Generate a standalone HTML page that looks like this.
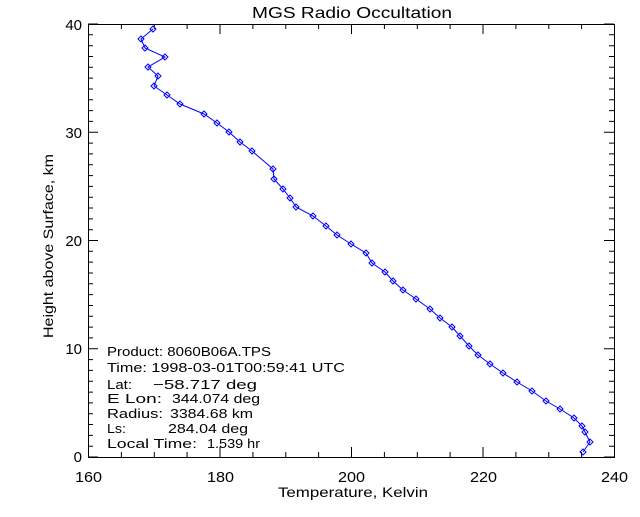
<!DOCTYPE html>
<html><head><style>
body{margin:0;background:#fff;}
svg text{font-family:"Liberation Sans",sans-serif;fill:#000;}
</style></head><body>
<svg width="640" height="512" viewBox="0 0 640 512" xmlns="http://www.w3.org/2000/svg">
<rect width="640" height="512" fill="#fff"/>
<text x="252" y="18" font-size="16" textLength="200" lengthAdjust="spacingAndGlyphs">MGS Radio Occultation</text>
<g stroke="#000" stroke-width="1" fill="none">
<rect x="88.5" y="24.5" width="526" height="433"/>
<path d="
M88.5 457v-10M88.5 24v10
M121.4 457v-5M121.4 24v5M154.3 457v-5M154.3 24v5M187.1 457v-5M187.1 24v5
M220 457v-10M220 24v10
M252.9 457v-5M252.9 24v5M285.8 457v-5M285.8 24v5M318.6 457v-5M318.6 24v5
M351.5 457v-10M351.5 24v10
M384.4 457v-5M384.4 24v5M417.3 457v-5M417.3 24v5M450.1 457v-5M450.1 24v5
M483 457v-10M483 24v10
M515.9 457v-5M515.9 24v5M548.8 457v-5M548.8 24v5M581.6 457v-5M581.6 24v5"/>
</g>
<g stroke="#000" stroke-width="1" id="yt"></g>
<script>
(function(){var g=document.getElementById('yt'),d='';
for(var k=0;k<=40;k++){var y=(457-k*10.825).toFixed(1);var L=(k%10==0)?10:5;
d+='M88 '+y+'h'+L+'M614 '+y+'h-'+L;}
var p=document.createElementNS('http://www.w3.org/2000/svg','path');p.setAttribute('d',d);p.setAttribute('fill','none');g.appendChild(p);})();
</script>
<g font-size="15">
<text x="75" y="482" textLength="27" lengthAdjust="spacingAndGlyphs">160</text>
<text x="207" y="482" textLength="27" lengthAdjust="spacingAndGlyphs">180</text>
<text x="338" y="482" textLength="27" lengthAdjust="spacingAndGlyphs">200</text>
<text x="470" y="482" textLength="27" lengthAdjust="spacingAndGlyphs">220</text>
<text x="601" y="482" textLength="27" lengthAdjust="spacingAndGlyphs">240</text>
</g>
<g font-size="15" text-anchor="end">
<text x="82" y="462">0</text><text x="82" y="354">10</text><text x="82" y="246">20</text><text x="82" y="138">30</text><text x="82" y="30">40</text>
</g>
<text x="278" y="497" font-size="14" textLength="150" lengthAdjust="spacingAndGlyphs">Temperature, Kelvin</text>
<text transform="translate(53,338) rotate(-90)" font-size="14" textLength="184" lengthAdjust="spacingAndGlyphs">Height above Surface, km</text>
<g font-size="13">
<text x="107" y="356" textLength="164" lengthAdjust="spacingAndGlyphs">Product: 8060B06A.TPS</text>
<text x="107" y="372" textLength="238" lengthAdjust="spacingAndGlyphs">Time: 1998-03-01T00:59:41 UTC</text>
<text x="107" y="389" textLength="25" lengthAdjust="spacingAndGlyphs">Lat:</text>
<text x="153" y="389" textLength="104" lengthAdjust="spacingAndGlyphs">−58.717 deg</text>
<text x="107" y="403" textLength="55" lengthAdjust="spacingAndGlyphs">E Lon:</text>
<text x="172" y="403" textLength="88" lengthAdjust="spacingAndGlyphs">344.074 deg</text>
<text x="107" y="418" textLength="56" lengthAdjust="spacingAndGlyphs">Radius:</text>
<text x="170" y="418" textLength="83" lengthAdjust="spacingAndGlyphs">3384.68 km</text>
<text x="107" y="433" textLength="19" lengthAdjust="spacingAndGlyphs">Ls:</text>
<text x="168" y="433" textLength="80" lengthAdjust="spacingAndGlyphs">284.04 deg</text>
<text x="107" y="448" textLength="90" lengthAdjust="spacingAndGlyphs">Local Time:</text>
<text x="207" y="448" textLength="53" lengthAdjust="spacingAndGlyphs">1.539 hr</text>
</g>
<g id="d"></g>
<script>
(function(){var pts=[[153,29],[141,39],[145,48],[165,57],[148,67],[158,76],[154,86],[167,95],[180,104],[204,114],[217,123],[229,132],[240,142],[252,151],[273,169],[274,179],[283,189],[290,198],[296,207],[313,216],[326,226],[337,235],[351,244],[366,253],[372,263],[385,272],[393,281],[403,290],[416,299],[430,309],[440,318],[452,327],[460,336],[469,346],[478,355],[490,364],[503,373],[517,382],[532,391],[546,401],[560,409],[574,418],[582,426],[585,432],[590,442],[583,452]];
var g=document.getElementById('d'),ns='http://www.w3.org/2000/svg';
var pl=document.createElementNS(ns,'polyline');pl.setAttribute('points',pts.map(function(p){return p.join(',')}).join(' '));
pl.setAttribute('fill','none');pl.setAttribute('stroke','#0000ff');pl.setAttribute('stroke-width','1');g.appendChild(pl);
pts.forEach(function(p){var q=document.createElementNS(ns,'polygon');var x=p[0],y=p[1];
q.setAttribute('points',(x-3)+','+y+' '+x+','+(y-3)+' '+(x+3)+','+y+' '+x+','+(y+3));
q.setAttribute('fill','none');q.setAttribute('stroke','#0000ff');g.appendChild(q);});})();
</script>
</svg>
</body></html>
